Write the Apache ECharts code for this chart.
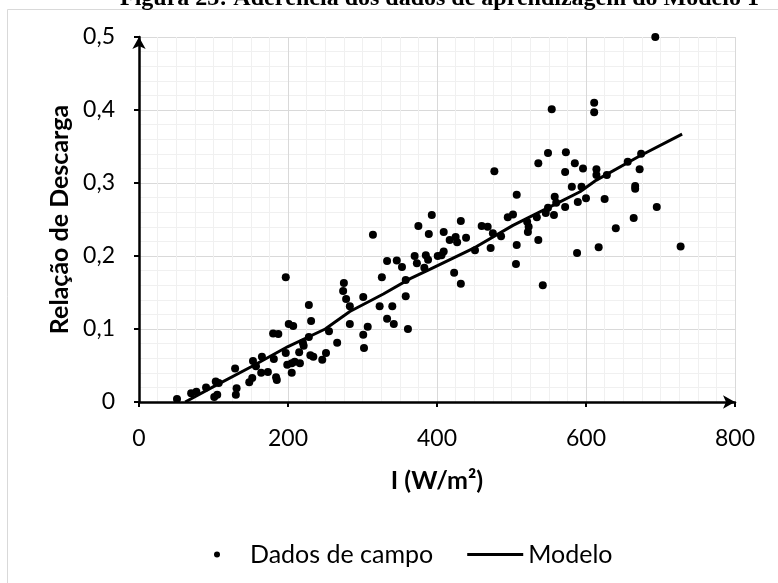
<!DOCTYPE html>
<html>
<head>
<meta charset="utf-8">
<script src="https://cdn.jsdelivr.net/npm/echarts@6/dist/echarts.min.js"></script>
<style>html,body{margin:0;padding:0;background:#fff;}#c{width:778px;height:583px;}</style>
</head>
<body>
<div id="c"></div>
<script>
const titleText = 'Figura 23: Aderência dos dados de aprendizagem do Modelo 1';
const xTicks = [0, 200, 400, 600, 800];
const yTicks = [0, 0.1, 0.2, 0.3, 0.4, 0.5];
const fieldData = [
[51,0.004],[70,0.012],[77,0.014],[90,0.02],[101,0.007],[105,0.01],[103,0.028],[107,0.026],[129,0.046],[131,0.019],
[130,0.01],[148,0.027],[152,0.033],[153,0.056],[157,0.049],[165,0.062],[164,0.04],[173,0.041],[181,0.059],[185,0.03],
[184,0.034],[180,0.094],[187,0.093],[197,0.171],[197,0.067],[199,0.051],[201,0.107],[207,0.104],[205,0.053],[209,0.055],
[205,0.04],[216,0.053],[215,0.068],[220,0.081],[221,0.077],[228,0.133],[231,0.111],[228,0.089],[230,0.064],[234,0.062],
[246,0.058],[251,0.067],[255,0.097],[266,0.081],[275,0.163],[274,0.152],[278,0.141],[283,0.131],[283,0.107],[301,0.144],
[301,0.092],[302,0.074],[307,0.103],[314,0.229],[323,0.131],[326,0.171],[333,0.193],[333,0.114],[340,0.131],[342,0.107],
[346,0.194],[353,0.185],[358,0.167],[358,0.145],[361,0.1],[370,0.2],[375,0.241],[373,0.19],[389,0.23],[393,0.256],
[385,0.201],[383,0.184],[388,0.195],[401,0.2],[406,0.201],[409,0.206],[409,0.233],[417,0.222],[425,0.226],[427,0.219],
[439,0.225],[432,0.248],[423,0.177],[432,0.162],[451,0.208],[460,0.241],[468,0.24],[472,0.211],[475,0.231],[486,0.227],
[477,0.316],[495,0.253],[502,0.257],[507,0.284],[507,0.215],[506,0.189],[521,0.247],[523,0.24],[522,0.233],[536,0.222],
[534,0.253],[536,0.327],[549,0.341],[546,0.259],[549,0.266],[557,0.256],[558,0.281],[560,0.273],[542,0.16],[554,0.401],
[573,0.342],[572,0.315],[585,0.327],[596,0.32],[614,0.319],[614,0.311],[628,0.311],[581,0.295],[594,0.295],[572,0.267],
[589,0.274],[600,0.279],[625,0.278],[656,0.329],[674,0.34],[672,0.319],[666,0.296],[666,0.292],[695,0.267],[664,0.252],
[640,0.238],[617,0.212],[588,0.204],[727,0.213],[611,0.41],[611,0.397],[693,0.5]
];
const modelData = [
[62,0],[100,0.021],[150,0.048],[200,0.076],[250,0.1],[283,0.124],[328,0.148],[364,0.169],[391,0.182],
[448,0.21],[502,0.242],[561,0.272],[592,0.288],[614,0.304],[672,0.337],[729,0.367]
];

const chart = echarts.init(document.getElementById('c'), null, {renderer: 'canvas'});
const FONT = 'Lato';
chart.setOption({
  animation: false,
  backgroundColor: '#fff',
  graphic: [
    {type: 'rect', left: 5, top: 7, shape: {x: 0, y: 0, width: 800, height: 600}, style: {fill: 'none', stroke: '#d9d9d9', lineWidth: 1}, z: -1},
    {type: 'text', x: 120, y: 11, style: {text: titleText, font: 'bold 24px "Liberation Serif"', fill: '#000', verticalAlign: 'bottom'}}
  ],
  grid: {left: 139, right: 43, top: 37, bottom: 181},
  legend: {
    left: 209, top: 537,
    itemWidth: 56, itemHeight: 6, itemGap: 34,
    textStyle: {fontFamily: FONT, fontSize: 25, color: '#000'},
    data: [
      {name: 'Dados de campo', icon: 'circle'},
      {name: 'Modelo', icon: 'path://M0,0H56V3H0Z'}
    ]
  },
  xAxis: {
    type: 'value', min: xTicks[0], max: xTicks[xTicks.length - 1], interval: 200,
    name: 'I (W/m²)', nameLocation: 'middle', nameGap: 66,
    nameTextStyle: {fontFamily: FONT, fontSize: 25, fontWeight: 'bold', color: '#000'},
    axisLine: {show: true, lineStyle: {color: '#000', width: 2.5}, symbol: ['none', 'arrow'], symbolSize: [10, 12], onZero: false},
    axisTick: {show: true, inside: false, length: 5, lineStyle: {color: '#000', width: 2}},
    axisLabel: {fontFamily: FONT, fontSize: 23, color: '#000', margin: 25},
    splitLine: {show: true, lineStyle: {color: '#d9d9d9', width: 1}},
    minorTick: {show: false, splitNumber: 8},
    minorSplitLine: {show: true, lineStyle: {color: '#f0f0f0', width: 1}}
  },
  yAxis: {
    type: 'value', min: yTicks[0], max: yTicks[yTicks.length - 1], interval: 0.1,
    name: 'Relação de Descarga', nameLocation: 'middle', nameGap: 62, nameRotate: 90,
    nameTextStyle: {fontFamily: FONT, fontSize: 25, fontWeight: 'bold', color: '#000'},
    axisLine: {show: true, lineStyle: {color: '#000', width: 2.5}, symbol: ['none', 'arrow'], symbolSize: [10, 12], onZero: false},
    axisTick: {show: true, inside: false, length: 5, lineStyle: {color: '#000', width: 2}},
    axisLabel: {fontFamily: FONT, fontSize: 23, color: '#000', margin: 24,
      formatter: v => String(Math.round(v * 10) / 10).replace('.', ',')},
    splitLine: {show: true, lineStyle: {color: '#d9d9d9', width: 1}},
    minorTick: {show: false, splitNumber: 5},
    minorSplitLine: {show: true, lineStyle: {color: '#f0f0f0', width: 1}}
  },
  series: [
    {name: 'Dados de campo', type: 'scatter', data: fieldData, symbol: 'circle', symbolSize: 8,
      itemStyle: {color: '#000', opacity: 1}, clip: false, z: 3},
    {name: 'Modelo', type: 'line', data: modelData, symbol: 'none', showSymbol: false,
      lineStyle: {color: '#000', width: 3}, itemStyle: {color: '#000'}, z: 4}
  ]
});
</script>
</body>
</html>
